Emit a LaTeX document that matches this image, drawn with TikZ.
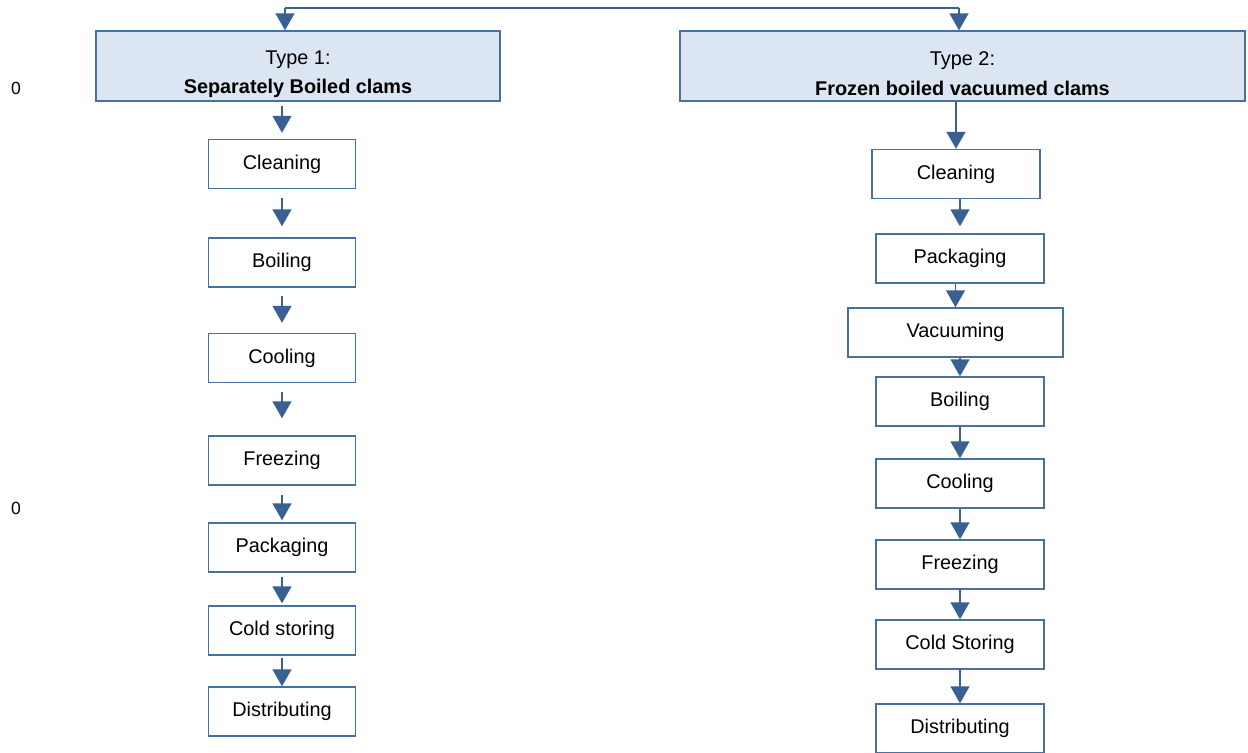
\documentclass[tikz,border=0pt]{standalone}
\usepackage{fontspec}
\setmainfont{Liberation Sans}
\usetikzlibrary{arrows.meta}
\definecolor{flowline}{RGB}{56,96,146}
\definecolor{boxedge}{RGB}{72,112,160}
\definecolor{typefill}{RGB}{220,230,242}

\begin{document}
\begin{tikzpicture}[x=0.02cm,y=-0.02cm,
    stepbox/.style={draw=boxedge,line width=0.8pt,fill=white,inner sep=0pt,
      minimum width=2.94cm,minimum height=0.98cm,font=\fontsize{11.3}{13}\selectfont},
    widebox/.style={stepbox,minimum width=3.36cm},
    typebox/.style={stepbox,fill=typefill,minimum height=1.4cm,align=center,
      font=\fontsize{11.3}{17}\selectfont},
    flow/.style={color=flowline,line width=0.85pt,-{Triangle[width=0.38cm,length=0.34cm]}}]
  \useasboundingbox (0,0) rectangle (1248,753);

  % the two kinds of product
  \node[typebox,minimum width=8.08cm] (t1) at (298,66) {\rule{0pt}{0.6cm}Type 1:\\\textbf{Separately Boiled clams}};
  \node[typebox,minimum width=11.3cm] (t2) at (962.5,66) {\rule{0pt}{0.6cm}Type 2:\\\textbf{Frozen boiled vacuumed clams}};
  \coordinate (j1) at (285,8);
  \coordinate (j2) at (959,8);
  \draw[color=flowline,line width=0.85pt] (j1) -- (j2);
  \draw[flow] (j1) -- (j1 |- t1.north);
  \draw[flow] (j2) -- (j2 |- t2.north);

  \node at (16,88) {0};
  \node at (16,508) {0};

  % type 1 steps
  \node[stepbox] (l1) at (282,164) {Cleaning};
  \node[stepbox] (l2) at (282,262.5) {Boiling};
  \node[stepbox] (l3) at (282,358) {Cooling};
  \node[stepbox] (l4) at (282,460.5) {Freezing};
  \node[stepbox] (l5) at (282,547.5) {Packaging};
  \node[stepbox] (l6) at (282,630.5) {Cold storing};
  \node[stepbox] (l7) at (282,711.5) {Distributing};

  % type 2 steps
  \node[widebox] (r1) at (956,174) {Cleaning};
  \node[widebox] (r2) at (960,258.5) {Packaging};
  \node[stepbox,minimum width=4.3cm] (r3) at (955.5,332.5) {Vacuuming};
  \node[widebox] (r4) at (960,401.5) {Boiling};
  \node[widebox] (r5) at (960,483.5) {Cooling};
  \node[widebox] (r6) at (960,564.5) {Freezing};
  \node[widebox] (r7) at (960,644.5) {Cold Storing};
  \node[widebox] (r8) at (960,728.5) {Distributing};

  \path[flow]
    (t1.south -| l1.north) edge[shorten <=0.08cm,shorten >=0.12cm] (l1.north)
    (l1) edge[shorten <=0.18cm,shorten >=0.22cm] (l2)
    (l2) edge[shorten <=0.16cm,shorten >=0.2cm] (l3)
    (l3) edge[shorten <=0.18cm,shorten >=0.34cm] (l4)
    (l4) edge[shorten <=0.18cm,shorten >=0.04cm] (l5)
    (l5) edge[shorten <=0.08cm,shorten >=0.04cm] (l6)
    (l6) edge[shorten <=0.04cm] (l7);

  \path[flow]
    (t2.south -| r1.north) edge (r1.north)
    (r1.south -| r2.north) edge[shorten >=0.14cm] (r2.north)
    (r2.south -| r3.north) edge (r3.north)
    (r3.south -| r4.north) edge (r4.north)
    (r4.south -| r5.north) edge (r5.north)
    (r5.south -| r6.north) edge (r6.north)
    (r6.south -| r7.north) edge (r7.north)
    (r7.south -| r8.north) edge (r8.north);
\end{tikzpicture}
\end{document}
